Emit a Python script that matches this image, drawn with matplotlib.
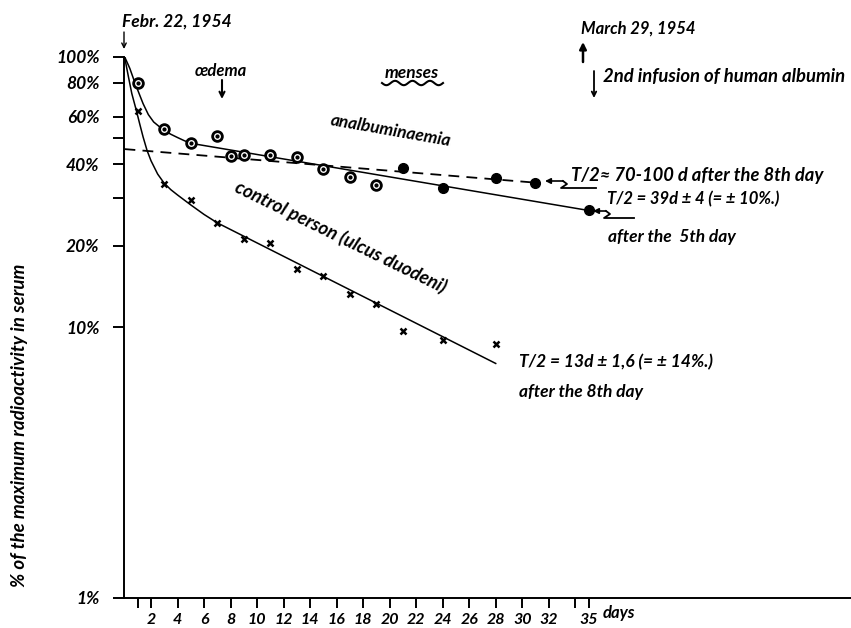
import numpy as np
import matplotlib
matplotlib.use("Agg")
import matplotlib.pyplot as plt

# ---------------- data ----------------
# analbuminaemia, open circles
alb_days_open = [1, 3, 5, 7, 8, 9, 11, 13, 15, 17, 19]
alb_vals_open = [79.5, 54, 48, 51, 43, 43.3, 43.3, 42.5, 38.4, 36, 33.6]
# analbuminaemia, filled circles
alb_days_fill = [21, 24, 28, 31, 35]
alb_vals_fill = [38.7, 32.6, 35.5, 34.2, 27]
# fitted (hand drawn) curve for analbuminaemia
alb_curve_days = [0, 0.4, 0.8, 1.1, 1.4, 1.8, 2.2, 2.7, 3, 3.5, 4, 4.5, 5, 35]
alb_curve_vals = [100, 90.4, 79.6, 73, 67, 61, 57.3, 54.7, 53.3, 51.6, 50.2, 48.9, 47.8, 27]
# dashed regression after the 8th day
alb_dash_days = [0, 31]
alb_dash_vals = [45.5, 34.2]

# control person (ulcus duodeni), crosses
ctl_days = [1, 3, 5, 7, 9, 11, 13, 15, 17, 19, 21, 24, 28]
ctl_vals = [63, 33.9, 29.4, 24.3, 21.1, 20.4, 16.4, 15.5, 13.3, 12.2, 9.7, 9.0, 8.7]
ctl_curve_days = [0, 0.3, 0.55, 0.9, 1.15, 1.4, 1.7, 2, 2.5, 3, 3.5, 4, 5, 6, 7, 28]
ctl_curve_vals = [100, 84, 73, 63, 56.3, 50.5, 45, 41.2, 36.8, 34, 32.2, 30.8, 28.3, 26.1, 24.3, 7.35]

y_ticks = [1, 10, 20, 30, 40, 50, 60, 80, 100]
y_labels = ["1%", "10%", "20%", "", "40%", "", "60%", "80%", "100%"]
x_ticks = [1, 2, 4, 6, 8, 10, 12, 14, 16, 18, 20, 22, 24, 26, 28, 30, 32, 34, 35]
x_labels = ["", "2", "4", "6", "8", "10", "12", "14", "16", "18", "20", "22",
            "24", "26", "28", "30", "32", "", "35"]

# ---------------- figure ----------------
W, H = 851, 628
FONT = "Lato"
plt.rcParams["font.family"] = [FONT, "DejaVu Sans"]
plt.rcParams["font.style"] = "italic"

fig = plt.figure(figsize=(W / 100, H / 100), dpi=100)
ax = fig.add_axes([124.5 / W, (H - 598) / H, (W - 124.5) / W, (598 - 56.5) / H])
ax.set_yscale("log")
ax.set_ylim(1, 100)
ax.set_xlim(0, 54.8)

for s in ("top", "right"):
    ax.spines[s].set_visible(False)
for s in ("left", "bottom"):
    ax.spines[s].set_linewidth(1.4)

ax.set_yticks(y_ticks)
ax.set_yticklabels(y_labels, fontsize=12.5, fontweight="bold", style="italic")
ax.yaxis.set_minor_locator(matplotlib.ticker.NullLocator())
ax.tick_params(axis="y", direction="out", length=8, width=1.4, pad=10)
ax.set_xticks(x_ticks)
ax.set_xticklabels(x_labels, fontsize=11.5, fontweight="bold", style="italic")
ax.tick_params(axis="x", direction="out", length=7, width=1.4, pad=4)

# curves
ax.plot(alb_curve_days, alb_curve_vals, color="black", lw=1.1)
ax.plot(alb_dash_days, alb_dash_vals, color="black", lw=1.3, ls=(0, (6, 4)))
ax.plot(ctl_curve_days, ctl_curve_vals, color="black", lw=1.1)

# markers
ax.plot(alb_days_open, alb_vals_open, ls="none", marker="o", ms=7,
        mfc="white", mec="black", mew=2.0, zorder=5)
ax.plot(alb_days_open, alb_vals_open, ls="none", marker="o", ms=2.0,
        mfc="black", mec="black", zorder=6)
ax.plot(alb_days_fill, alb_vals_fill, ls="none", marker="o", ms=7,
        mfc="black", mec="black", zorder=5)
ax.plot(ctl_days, ctl_vals, ls="none", marker="x", ms=5, mew=1.8,
        color="black", zorder=5)

# ---------------- annotations (figure pixel coords) ----------------
def P(x, y):
    return (x / W, 1 - y / H)

def txt(x, y, s, size=12, rot=0, ha="left", va="center", weight="bold"):
    fig.text(*P(x, y), s, fontsize=size, rotation=rot, ha=ha, va=va,
             style="italic", fontweight=weight, rotation_mode="anchor")

def arrow(x0, y0, x1, y1, style="->", lw=1.2, ms=8):
    ax.annotate("", xy=P(x1, y1), xytext=P(x0, y0), xycoords="figure fraction",
                textcoords="figure fraction",
                arrowprops=dict(arrowstyle=style, lw=lw, color="black",
                                mutation_scale=ms, shrinkA=0, shrinkB=0))

def path(xs, ys, lw=1.3):
    fx = [x / W for x in xs]
    fy = [1 - y / H for y in ys]
    fig.add_artist(matplotlib.lines.Line2D(fx, fy, color="black", lw=lw,
                                           transform=fig.transFigure))

txt(122, 22, "Febr. 22, 1954", size=12.5)
arrow(124, 32, 124, 49, style="->", lw=1.0, ms=8)

txt(221, 71, "œdema", size=12, ha="center")
arrow(222, 80, 222, 99, style="->", lw=1.5, ms=9)

txt(412, 73, "menses", size=12.5, ha="center")
wx = np.linspace(382, 443, 60)
path(wx, 83 + 2.2 * np.sin((wx - 382) / 61 * 2 * np.pi * 3.5), lw=1.5)

txt(581, 29, "March 29, 1954", size=12)
arrow(583, 62, 583, 42, style="-|>", lw=1.8, ms=10)
arrow(594, 71, 594, 98, style="->", lw=1.3, ms=8)
txt(603, 76, "2nd infusion of human albumin", size=13.3)

txt(391, 131, "analbuminaemia", size=12.5, rot=-10, ha="center")
txt(341, 237, "control person (ulcus duodeni)", size=13.3, rot=-26, ha="center")

# T/2 labels with arrows
txt(571, 176, "T/2≈ 70-100 d after the 8th day", size=13.2)
arrow(563, 181, 545, 181, style="-|>", lw=1.2, ms=8)
path([563, 567, 561, 596], [181, 184, 188, 188])

txt(607, 199, "T/2 = 39d ± 4 (= ± 10%.)", size=12)
arrow(606, 211, 593, 211, style="-|>", lw=1.2, ms=8)
path([606, 610, 604, 634], [211, 214, 218, 218])
txt(608, 237, "after the  5th day", size=12.5)

txt(519, 362, "T/2 = 13d ± 1,6 (= ± 14%.)", size=12.5)
txt(519, 392, "after the 8th day", size=12.5)

txt(603, 613, "days", size=12)

fig.text(*P(20, 425), "% of the maximum radioactivity in serum", rotation=90,
         ha="center", va="center", fontsize=13.5, style="italic", fontweight="bold")

fig.savefig("out.png", dpi=100, facecolor="white")
